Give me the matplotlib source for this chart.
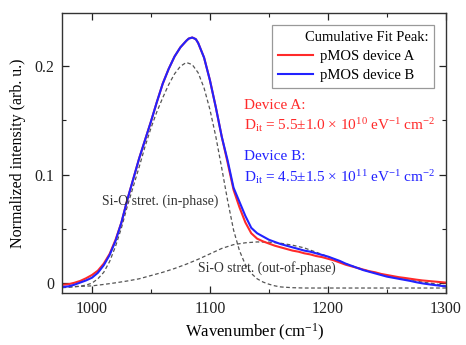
import numpy as np
import matplotlib
matplotlib.use('Agg')
import matplotlib.pyplot as plt
from matplotlib.ticker import MultipleLocator, FuncFormatter

plt.rcParams['font.family'] = ['Liberation Serif', 'DejaVu Serif']
plt.rcParams['mathtext.fontset'] = 'custom'
plt.rcParams['mathtext.rm'] = 'Liberation Serif'
plt.rcParams['mathtext.it'] = 'Liberation Serif:italic'

# cumulative fit peaks
wn_total = [975, 980, 985, 990, 995, 1000, 1005, 1010, 1015, 1020, 1025, 1030, 1035, 1040,
            1045, 1050, 1055, 1060, 1065, 1070, 1075, 1080, 1082, 1085, 1088, 1090, 1095,
            1100, 1105, 1110, 1115, 1120, 1125, 1130, 1135, 1140, 1145, 1150, 1155, 1160,
            1165, 1170, 1175, 1180, 1185, 1190, 1195, 1200, 1205, 1210, 1215, 1220, 1225,
            1230, 1235, 1240, 1245, 1250, 1255, 1260, 1265, 1270, 1275, 1280, 1285, 1290,
            1295, 1300]
dev_a = [-0.0015, -0.001, 0.0003, 0.002, 0.0045, 0.0075, 0.0115, 0.018, 0.027, 0.040,
         0.056, 0.077, 0.096, 0.115, 0.132, 0.149, 0.167, 0.184, 0.1975, 0.209, 0.2175,
         0.2235, 0.2255, 0.2265, 0.225, 0.2215, 0.208, 0.187, 0.162, 0.135, 0.111, 0.086,
         0.070, 0.056, 0.046, 0.041, 0.0385, 0.0365, 0.0345, 0.033, 0.0315, 0.030, 0.029,
         0.0275, 0.0265, 0.025, 0.024, 0.0225, 0.021, 0.019, 0.017, 0.0155, 0.014, 0.0125,
         0.011, 0.010, 0.0085, 0.0075, 0.0065, 0.0055, 0.0048, 0.004, 0.0032, 0.0025,
         0.002, 0.0015, 0.001, 0.0005]
dev_b = [-0.0035, -0.003, -0.0015, 0.0005, 0.0025, 0.005, 0.0095, 0.0165, 0.026, 0.039,
         0.056, 0.077, 0.096, 0.115, 0.132, 0.149, 0.167, 0.184, 0.1975, 0.209, 0.2175,
         0.2235, 0.2255, 0.2265, 0.225, 0.2215, 0.208, 0.187, 0.162, 0.135, 0.113, 0.088,
         0.075, 0.062, 0.051, 0.046, 0.043, 0.040, 0.038, 0.036, 0.0345, 0.033, 0.0315,
         0.030, 0.029, 0.0275, 0.026, 0.0245, 0.0225, 0.0205, 0.018, 0.016, 0.014, 0.012,
         0.0105, 0.009, 0.0075, 0.006, 0.005, 0.004, 0.003, 0.002, 0.0008, -0.0002,
         -0.001, -0.0017, -0.0024, -0.003]

# component peaks
wn_in = [975, 980, 985, 990, 995, 1000, 1005, 1010, 1015, 1020, 1025, 1030, 1035, 1040,
         1045, 1050, 1055, 1060, 1065, 1070, 1075, 1080, 1085, 1090, 1095, 1100, 1105,
         1110, 1115, 1120, 1125, 1130, 1135, 1140, 1145, 1150, 1155, 1160, 1170, 1180, 1300]
in_phase = [-0.0042, -0.0038, -0.0033, -0.0028, -0.0018, 0.000, 0.004, 0.010, 0.020, 0.034,
            0.051, 0.071, 0.089, 0.107, 0.126, 0.143, 0.158, 0.171, 0.183, 0.193, 0.200,
            0.2035, 0.2015, 0.194, 0.180, 0.160, 0.135, 0.106, 0.076, 0.049, 0.030, 0.017,
            0.009, 0.004, 0.001, -0.001, -0.0025, -0.0035, -0.0042, -0.0045, -0.0045]
wn_out = [975, 990, 1000, 1010, 1020, 1030, 1040, 1050, 1060, 1070, 1080, 1090, 1100, 1110,
          1120, 1130, 1140, 1150, 1160, 1170, 1180, 1190, 1200, 1210, 1220, 1230, 1240,
          1250, 1260, 1270, 1280, 1290, 1300]
out_phase = [-0.0037, -0.003, -0.0025, -0.0012, 0.0003, 0.002, 0.004, 0.007, 0.010, 0.0135,
             0.0175, 0.022, 0.027, 0.032, 0.0355, 0.0372, 0.038, 0.0378, 0.0368, 0.035,
             0.0325, 0.0285, 0.0245, 0.020, 0.016, 0.0125, 0.0095, 0.007, 0.0045, 0.0025,
             0.001, -0.0005, -0.0025]

red = '#ff2a2a'
blue = '#2222ff'

fig = plt.figure(figsize=(4.66, 3.45), dpi=100)
ax = fig.add_axes([0.134, 0.151, 0.823, 0.811])

ax.plot(wn_in, in_phase, color='#555555', lw=0.9, ls=(0, (3, 2)))
ax.plot(wn_out, out_phase, color='#555555', lw=0.9, ls=(0, (3, 2)))
ax.plot(wn_total, dev_a, color=red, lw=1.5, solid_joinstyle='round', label='pMOS device A    ')
ax.plot(wn_total, dev_b, color=blue, lw=1.5, solid_joinstyle='round', label='pMOS device B    ')

ax.set_xlim(975, 1300)
ax.set_ylim(-0.009, 0.249)
ax.xaxis.set_major_locator(MultipleLocator(100))
ax.xaxis.set_minor_locator(MultipleLocator(50))
ax.yaxis.set_major_locator(MultipleLocator(0.1))
ax.yaxis.set_minor_locator(MultipleLocator(0.05))
ax.yaxis.set_major_formatter(FuncFormatter(lambda v, p: '0' if abs(v) < 1e-9 else f'{v:.1f}'))
ax.tick_params(which='both', direction='in', top=True, right=True, labelsize=11.5, colors='#222222')
ax.tick_params(which='major', length=5, width=0.9, pad=6)
ax.tick_params(which='minor', length=3, width=0.8)
for s in ax.spines.values():
    s.set_color('#333333')
    s.set_linewidth(1.0)

ax.set_xlabel('Wavenumber (cm$^{-1}$)', fontsize=12, labelpad=3)
ax.set_ylabel('Normalized intensity (arb. u.)', fontsize=11.5, labelpad=6)

leg = ax.legend(title='Cumulative Fit Peak:', loc='upper right', fontsize=10.5,
                title_fontsize=10.5, frameon=True, fancybox=False, framealpha=1,
                edgecolor='#999999', borderpad=0.4, handlelength=2.4,
                handletextpad=0.45, labelspacing=0.4, borderaxespad=0.8,
                alignment='right')
leg.get_frame().set_linewidth(0.9)

ax.text(1008.5, 0.0756, 'Si-O stret. (in-phase)', fontsize=9.9, color='#333333', va='center')
ax.text(1090, 0.0135, 'Si-O stret. (out-of-phase)', fontsize=9.8, color='#333333', va='center')

ax.text(1129, 0.164, 'Device A:', fontsize=11, color=red, va='center')
ax.text(1129, 0.1456, r'D$_{\rm it}$ = 5.5±1.0 × 10$^{10}$ eV$^{-1}$ cm$^{-2}$',
        fontsize=11, color=red, va='center')
ax.text(1129, 0.1165, 'Device B:', fontsize=11, color=blue, va='center')
ax.text(1129, 0.0978, r'D$_{\rm it}$ = 4.5±1.5 × 10$^{11}$ eV$^{-1}$ cm$^{-2}$',
        fontsize=11, color=blue, va='center')

fig.savefig('out.png', dpi=100)
